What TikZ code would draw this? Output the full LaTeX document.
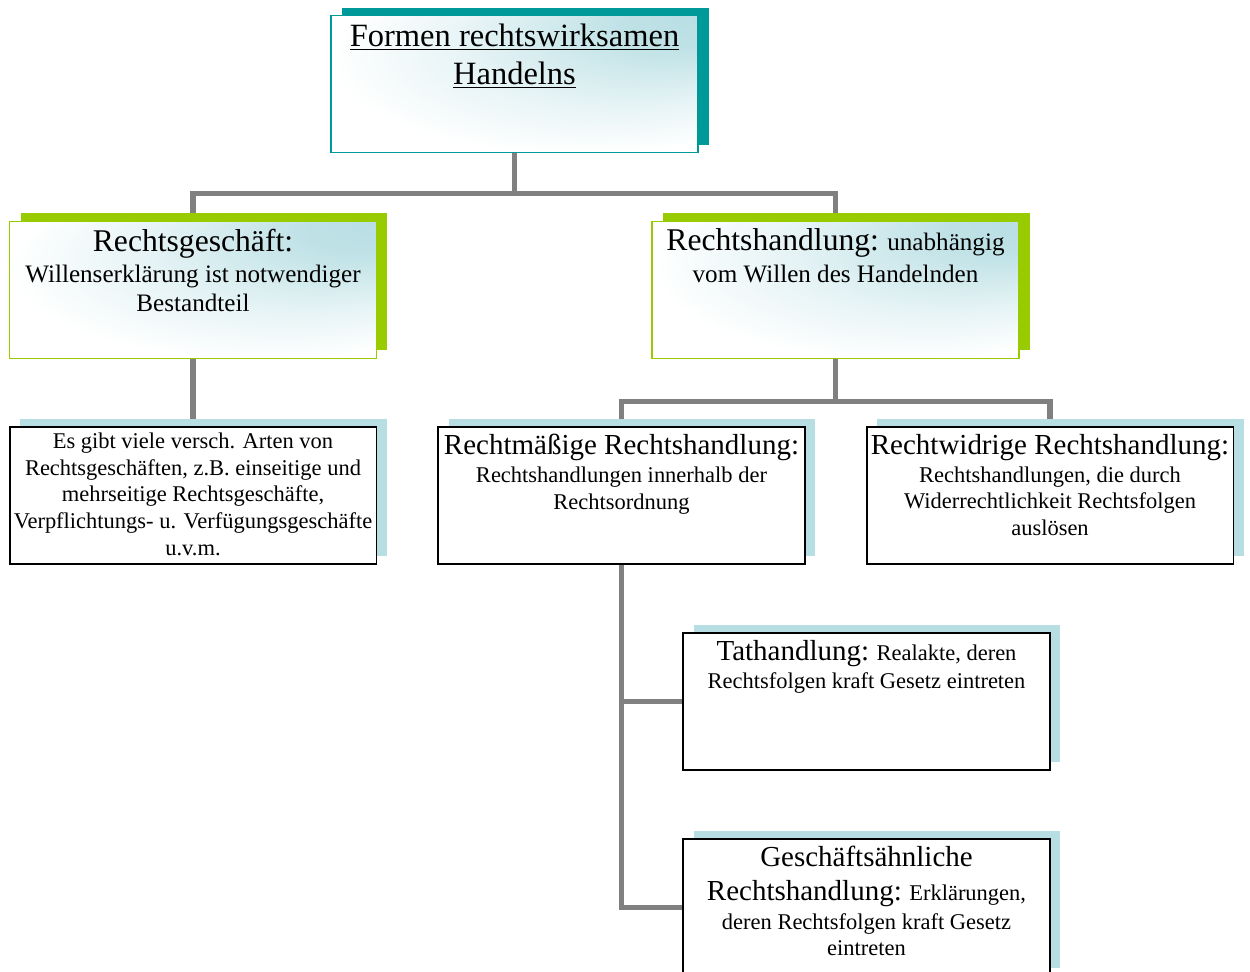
\documentclass[tikz,border=0pt]{standalone}
\usepackage{fontspec}
\setmainfont{Liberation Serif}
\usetikzlibrary{positioning, shadows, backgrounds}

\definecolor{tealtop}{HTML}{009999}
\definecolor{limeshade}{HTML}{99CC00}
\definecolor{iceblue}{HTML}{B7DEE3}
\definecolor{linkgray}{HTML}{808080}

% light glow from the upper right corner
\pgfdeclareradialshading{cornerglow}{\pgfpoint{28bp}{26bp}}{%
    color(0bp)=(iceblue); color(8bp)=(iceblue!90!white);
    color(22bp)=(iceblue!35!white); color(34bp)=(white); color(50bp)=(white)}

\newcommand\sizeTitle{\fontsize{18.5}{21.5}\selectfont}
\newcommand\sizeHeadB{\fontsize{18}{20}\selectfont}
\newcommand\sizeHeadC{\fontsize{16.5}{19}\selectfont}
\newcommand\sizeTextB{\fontsize{14.3}{16.5}\selectfont}
\newcommand\sizeTextC{\fontsize{12.8}{15.2}\selectfont}

\tikzset{
    box/.style = {rectangle, minimum width=7.34cm, minimum height=2.74cm, inner sep=0pt},
    topbox/.style = {box, draw=tealtop, line width=1pt, shade, shading=cornerglow,
        general shadow={fill=tealtop, shadow xshift=0.22cm, shadow yshift=0.15cm}},
    midbox/.style = {box, draw=limeshade, line width=1pt, shade, shading=cornerglow,
        general shadow={fill=limeshade, shadow xshift=0.22cm, shadow yshift=0.17cm}},
    lowbox/.style = {box, draw=black, line width=1.1pt, fill=white,
        general shadow={fill=iceblue, shadow xshift=0.21cm, shadow yshift=0.16cm}},
    boxtext/.style = {align=center, inner sep=0pt},
    link/.style = {draw=linkgray, line width=3pt}
}

\begin{document}
\begin{tikzpicture} [x=0.02cm, y=-0.02cm, node distance=0.16cm]
    \useasboundingbox (0,0) rectangle (1250,972);

    % boxes
    \node (form) [topbox] at (514.5,84) {};
    \node (geschaeft) [midbox] at (193,290) {};
    \node (handlung) [midbox] at (835.5,290) {};
    \node (arten) [lowbox] at (193,495.5) {};
    \node (rechtm) [lowbox] at (621.5,495.5) {};
    \node (rechtw) [lowbox] at (1050,495.5) {};
    \node (tat) [lowbox] at (866.5,701.5) {};
    \node (gaehnl) [lowbox] at (866.5,907.5) {};

    % texts
    \node (formT) [boxtext, below = 0.18cm of form.north, font=\sizeTitle]
        {\underline{Formen rechtswirksamen}\\ \underline{Handelns}};
    \node (geschaeftT) [boxtext, below = of geschaeft.north, font=\sizeTextB]
        {{\sizeHeadB Rechtsgeschäft:}\\[1.5pt] Willenserklärung ist notwendiger\\ Bestandteil};
    \node (handlungT) [boxtext, below = of handlung.north, font=\sizeTextB]
        {{\sizeHeadB Rechtshandlung:} unabhängig\\[1.5pt] vom Willen des Handelnden};
    \node (artenT) [boxtext, below = 0.13cm of arten.north, font=\sizeTextC]
        {Es gibt viele versch. Arten von\\ Rechtsgeschäften, z.B. einseitige und\\ mehrseitige Rechtsgeschäfte,\\ Verpflichtungs- u. Verfügungsgeschäfte\\ u.v.m.};
    \node (rechtmT) [boxtext, below = of rechtm.north, font=\sizeTextC]
        {{\sizeHeadC Rechtmäßige Rechtshandlung:}\\[0.6pt] Rechtshandlungen innerhalb der\\ Rechtsordnung};
    \node (rechtwT) [boxtext, below = of rechtw.north, font=\sizeTextC]
        {{\sizeHeadC Rechtwidrige Rechtshandlung:}\\[0.6pt] Rechtshandlungen, die durch\\ Widerrechtlichkeit Rechtsfolgen\\ auslösen};
    \node (tatT) [boxtext, below = of tat.north, font=\sizeTextC]
        {{\sizeHeadC Tathandlung:} Realakte, deren\\[0.6pt] Rechtsfolgen kraft Gesetz eintreten};
    \node (gaehnlT) [boxtext, below = of gaehnl.north, font=\sizeTextC]
        {{\sizeHeadC Geschäftsähnliche}\\[4pt] {\sizeHeadC Rechtshandlung:} Erklärungen,\\[1pt] deren Rechtsfolgen kraft Gesetz\\ eintreten};

    % connectors
    \begin{scope}[on background layer]
        \path [link] (form.south) -- ++(0,40) -| (geschaeft.north);
        \path [link] (form.south) -- ++(0,40) -| (handlung.north);
        \path [link] (geschaeft.south) -- (arten.north);
        \path [link] (handlung.south) -- ++(0,42) -| (rechtm.north);
        \path [link] (handlung.south) -- ++(0,42) -| (rechtw.north);
        \path [link] (rechtm.south) |- (tat.west);
        \path [link] (rechtm.south) |- (gaehnl.west);
    \end{scope}

\end{tikzpicture}
\end{document}
